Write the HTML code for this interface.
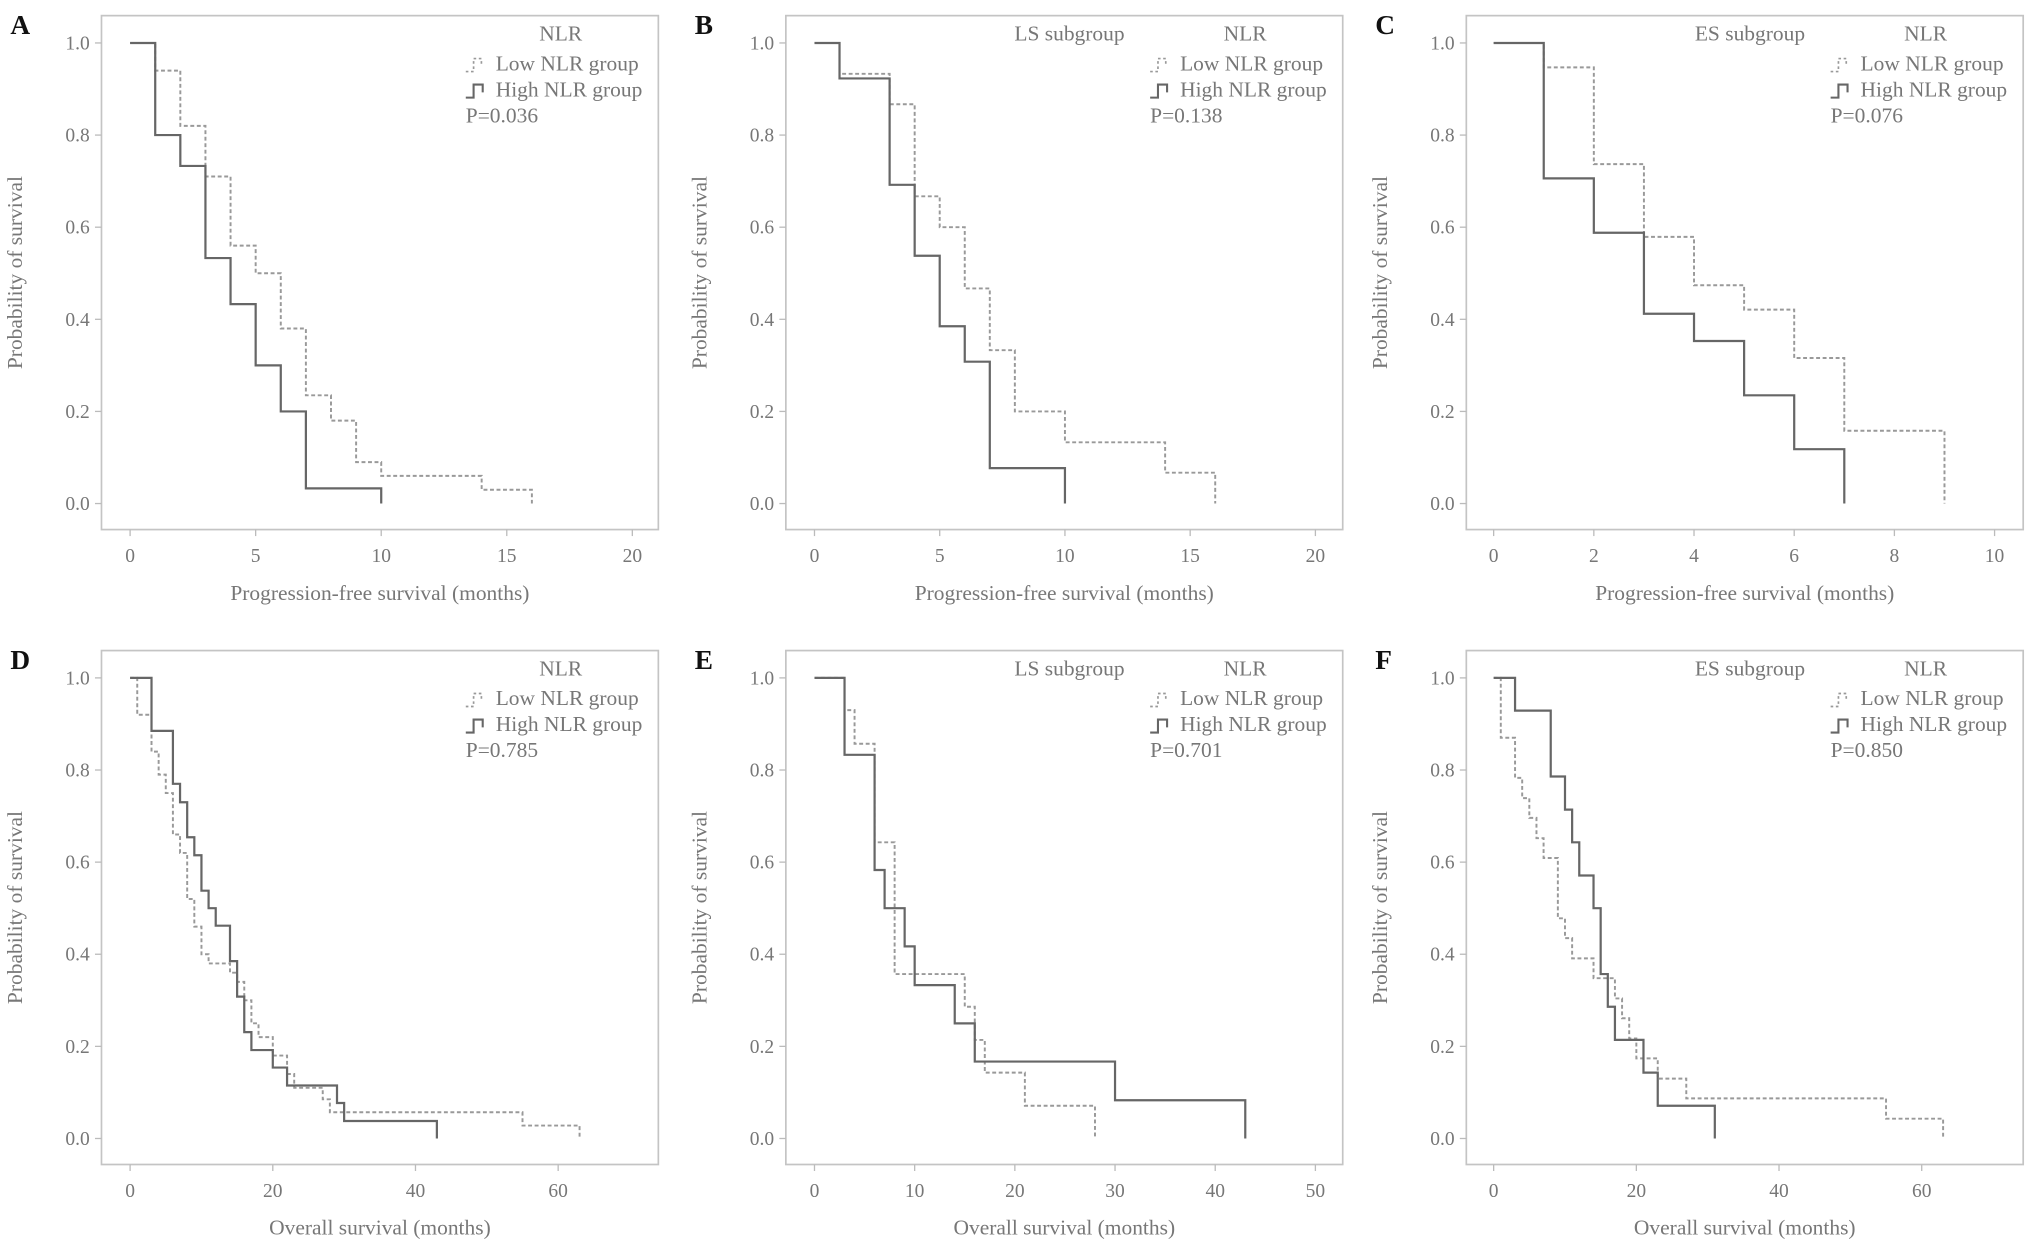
<!DOCTYPE html>
<html><head><meta charset="utf-8"><style>
html,body{margin:0;padding:0;background:#fff;}
svg{display:block;font-family:"Liberation Serif",serif;}
</style></head><body>
<svg id="fig" width="2031" height="1253" viewBox="0 0 1561 963" xmlns="http://www.w3.org/2000/svg"></svg>
<script>
// ---- Data ----
const aLowT=[0,1,2,3,4,5,6,7,8,9,10,14,16];
const aLowS=[1,.94,.82,.71,.56,.5,.38,.235,.18,.09,.06,.03,0];
const aHighT=[0,1,2,3,4,5,6,7,10];
const aHighS=[1,.8,.733,.533,.433,.3,.2,.033,0];
const bLowT=[0,1,3,4,5,6,7,8,10,14,16];
const bLowS=[1,.933,.867,.667,.6,.467,.333,.2,.133,.067,0];
const bHighT=[0,1,3,4,5,6,7,10];
const bHighS=[1,.923,.692,.538,.385,.308,.077,0];
const cLowT=[0,1,2,3,4,5,6,7,9];
const cLowS=[1,.947,.737,.579,.474,.421,.316,.158,0];
const cHighT=[0,1,2,3,4,5,6,7];
const cHighS=[1,.706,.588,.412,.353,.235,.118,0];
const dLowT=[0,1,3,4,5,6,7,8,9,10,11,14,15,16,17,18,20,22,23,27,28,55,63];
const dLowS=[1,.92,.84,.79,.75,.66,.62,.52,.46,.40,.38,.36,.34,.30,.25,.22,.18,.14,.11,.085,.057,.028,0];
const dHighT=[0,3,6,7,8,9,10,11,12,14,15,16,17,20,22,29,30,43];
const dHighS=[1,.885,.77,.73,.654,.615,.538,.5,.462,.385,.308,.231,.192,.154,.115,.077,.038,0];
const eLowT=[0,3,4,6,8,15,16,17,21,28];
const eLowS=[1,.93,.857,.643,.357,.286,.214,.143,.071,0];
const eHighT=[0,3,6,7,9,10,14,16,30,43];
const eHighS=[1,.833,.583,.5,.417,.333,.25,.167,.083,0];
const fLowT=[0,1,3,4,5,6,7,9,10,11,14,17,18,19,20,23,27,55,63];
const fLowS=[1,.87,.783,.739,.696,.652,.609,.478,.435,.391,.348,.304,.261,.217,.174,.13,.087,.043,0];
const fHighT=[0,3,8,10,11,12,14,15,16,17,21,23,31];
const fHighS=[1,.929,.786,.714,.643,.571,.5,.357,.286,.214,.143,.071,0];
const yTicks=[0,0.2,0.4,0.6,0.8,1.0];
const xTicksPFS20=[0,5,10,15,20];
const xTicksPFS10=[0,2,4,6,8,10];
const xTicksOS60=[0,20,40,60];
const xTicksOS50=[0,10,20,30,40,50];

const panels=[
 {id:'a',letter:'A',fx:78,fy:12,x0:100,xMax:20,xMaxPx:486,ticks:xTicksPFS20,title:'Progression-free survival (months)',sub:'',p:'P=0.036',low:[aLowT,aLowS],high:[aHighT,aHighS]},
 {id:'b',letter:'B',fx:604,fy:12,x0:626,xMax:20,xMaxPx:1011,ticks:xTicksPFS20,title:'Progression-free survival (months)',sub:'LS subgroup',p:'P=0.138',low:[bLowT,bLowS],high:[bHighT,bHighS]},
 {id:'c',letter:'C',fx:1127,fy:12,x0:1148,xMax:10,xMaxPx:1533,ticks:xTicksPFS10,title:'Progression-free survival (months)',sub:'ES subgroup',p:'P=0.076',low:[cLowT,cLowS],high:[cHighT,cHighS]},
 {id:'d',letter:'D',fx:78,fy:500,x0:100,xMax:60,xMaxPx:429,ticks:xTicksOS60,title:'Overall survival (months)',sub:'',p:'P=0.785',low:[dLowT,dLowS],high:[dHighT,dHighS]},
 {id:'e',letter:'E',fx:604,fy:500,x0:626,xMax:50,xMaxPx:1011,ticks:xTicksOS50,title:'Overall survival (months)',sub:'LS subgroup',p:'P=0.701',low:[eLowT,eLowS],high:[eHighT,eHighS]},
 {id:'f',letter:'F',fx:1127,fy:500,x0:1148,xMax:60,xMaxPx:1477,ticks:xTicksOS60,title:'Overall survival (months)',sub:'ES subgroup',p:'P=0.850',low:[fLowT,fLowS],high:[fHighT,fHighS]}
];
const NS='http://www.w3.org/2000/svg';
const svg=document.getElementById('fig');
function mk(tag,attrs,parent){const e=document.createElementNS(NS,tag);for(const k in attrs)e.setAttribute(k,attrs[k]);(parent||svg).appendChild(e);return e;}
function txt(s,attrs,parent){const e=mk('text',attrs,parent);e.textContent=s;return e;}
const GRAY='#777';
panels.forEach(P=>{
  const g=mk('g',{});
  
  
  const W=428,H=395;
  const y1=P.fy+21, y0=P.fy+375;
  const sx=v=>P.x0+(P.xMaxPx-P.x0)*v/P.xMax;
  const sy=v=>y0+(y1-y0)*v;
  const fr=mk('rect',{x:P.fx,y:P.fy,width:W,height:H,fill:'none',stroke:'#c4c4c4','stroke-width':1.3},g);
  
  
  const L=txt(P.letter,{x:P.fx-70,y:P.fy+14,'font-size':21,'font-weight':'bold',fill:'#111'},g);
  
  
  yTicks.forEach(v=>{
    mk('line',{x1:P.fx-5,x2:P.fx,y1:sy(v),y2:sy(v),stroke:'#bbb'},g);
    const t=txt(v.toFixed(1),{x:P.fx-9,y:sy(v)+5,'font-size':15,fill:GRAY,'text-anchor':'end'},g);
    
    
  });
  P.ticks.forEach(v=>{
    mk('line',{x1:sx(v),x2:sx(v),y1:P.fy+H,y2:P.fy+H+5,stroke:'#bbb'},g);
    const t=txt(String(v),{x:sx(v),y:P.fy+H+25,'font-size':15,fill:GRAY,'text-anchor':'middle'},g);
    
    
  });
  const xt=txt(P.title,{x:P.fx+W/2,y:P.fy+H+54,'font-size':16.5,fill:GRAY,'text-anchor':'middle'},g);
  
  
  const cy=P.fy+H/2;
  const yt=txt('Probability of survival',{x:0,y:0,'font-size':16.5,fill:GRAY,'text-anchor':'middle',transform:'translate('+(P.fx-61)+','+cy+') rotate(-90)'},g);
  
  
  function curve(T,S,dashed,name){
    let d='M'+sx(T[0])+','+sy(S[0]);
    for(let i=1;i<T.length;i++){d+=' H'+sx(T[i])+' V'+sy(S[i]);}
    const p=mk('path',{d:d,fill:'none',stroke:dashed?'#999':'#666','stroke-width':dashed?1.5:1.7,'stroke-dasharray':dashed?'3,2':'none'},g);
    
    
  }
  curve(P.low[0],P.low[1],true,'low-nlr-curve');
  curve(P.high[0],P.high[1],false,'high-nlr-curve');
  const lx=P.fx+280, ly=P.fy;
  const lt=txt('NLR',{x:lx+73,y:ly+19,'font-size':16.5,fill:GRAY,'text-anchor':'middle'},g);
  
  
  mk('path',{d:'M'+lx+','+(ly+43)+' h6 v-10 h6 v5',fill:'none',stroke:'#999','stroke-width':1.3,'stroke-dasharray':'2,2'},g);
  const l1=txt('Low NLR group',{x:lx+23,y:ly+42,'font-size':16.5,fill:GRAY},g);
  
  
  mk('path',{d:'M'+lx+','+(ly+63)+' h6 v-10 h7 v6',fill:'none',stroke:'#666','stroke-width':1.6},g);
  const l2=txt('High NLR group',{x:lx+23,y:ly+62,'font-size':16.5,fill:GRAY},g);
  
  
  const pv=txt(P.p,{x:lx,y:ly+82,'font-size':16.5,fill:GRAY},g);
  
  
  if(P.sub){
    const s=txt(P.sub,{x:P.fx+W/2+4,y:P.fy+19,'font-size':16.5,fill:GRAY,'text-anchor':'middle'},g);
    
    
  }
});
</script>
</body></html>
